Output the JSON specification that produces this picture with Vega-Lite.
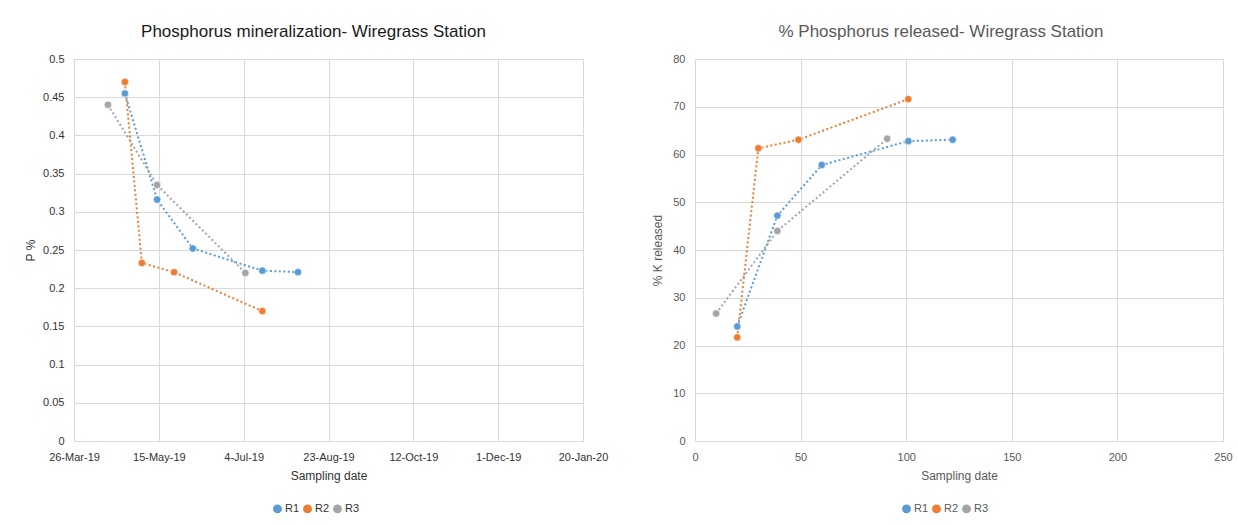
{
  "$schema": "https://vega.github.io/schema/vega-lite/v6.json",
  "padding": {"left": 24, "top": 22, "right": 5, "bottom": 5},
  "background": "white",
  "datasets": {
    "samples": [
      {"rep": "R1", "date": "2019-04-25", "day": 20, "p": 0.455, "released": 24.0},
      {"rep": "R1", "date": "2019-05-14", "day": 39, "p": 0.316, "released": 47.2},
      {"rep": "R1", "date": "2019-06-04", "day": 60, "p": 0.252, "released": 57.8},
      {"rep": "R1", "date": "2019-07-15", "day": 101, "p": 0.223, "released": 62.8},
      {"rep": "R1", "date": "2019-08-05", "day": 122, "p": 0.221, "released": 63.1},
      {"rep": "R2", "date": "2019-04-25", "day": 20, "p": 0.470, "released": 21.7},
      {"rep": "R2", "date": "2019-05-05", "day": 30, "p": 0.233, "released": 61.3},
      {"rep": "R2", "date": "2019-05-24", "day": 49, "p": 0.221, "released": 63.1},
      {"rep": "R2", "date": "2019-07-15", "day": 101, "p": 0.170, "released": 71.6},
      {"rep": "R3", "date": "2019-04-15", "day": 10, "p": 0.440, "released": 26.7},
      {"rep": "R3", "date": "2019-05-14", "day": 39, "p": 0.335, "released": 44.0},
      {"rep": "R3", "date": "2019-07-05", "day": 91, "p": 0.220, "released": 63.3}
    ]
  },
  "data": {"name": "samples"},
  "config": {
    "font": "Liberation Sans",
    "view": {"stroke": "#d9d9d9", "strokeWidth": 1},
    "axis": {
      "grid": true,
      "gridColor": "#d9d9d9",
      "gridWidth": 1,
      "domainColor": "#d9d9d9",
      "ticks": false,
      "labelFontSize": 11,
      "titleFontSize": 12,
      "titleFontWeight": "normal",
      "labelPadding": 10,
      "labelOverlap": false,
      "tickCount": 20
    },
    "legend": {
      "orient": "none",
      "direction": "horizontal",
      "symbolType": "circle",
      "symbolSize": 55,
      "labelFontSize": 11,
      "labelOffset": 2,
      "columnPadding": 0,
      "title": null
    },
    "title": {"fontSize": 17, "fontWeight": "normal", "anchor": "middle", "offset": 12}
  },
  "hconcat": [
    {
      "width": 509,
      "height": 382,
      "title": {"text": "Phosphorus mineralization- Wiregrass Station", "color": "#1a1a1a", "dx": -15},
      "encoding": {
        "x": {
          "field": "date",
          "type": "temporal",
          "title": "Sampling date",
          "scale": {
            "type": "utc",
            "domain": [
              {"year": 2019, "month": 3, "date": 26, "utc": true},
              {"year": 2020, "month": 1, "date": 20, "utc": true}
            ],
            "nice": false
          },
          "axis": {
            "values": [
              {"year": 2019, "month": 3, "date": 26, "utc": true},
              {"year": 2019, "month": 5, "date": 15, "utc": true},
              {"year": 2019, "month": 7, "date": 4, "utc": true},
              {"year": 2019, "month": 8, "date": 23, "utc": true},
              {"year": 2019, "month": 10, "date": 12, "utc": true},
              {"year": 2019, "month": 12, "date": 1, "utc": true},
              {"year": 2020, "month": 1, "date": 20, "utc": true}
            ],
            "format": "%-d-%b-%y",
            "labelAngle": 0,
            "labelColor": "#333333",
            "titleColor": "#333333",
            "titlePadding": 8,
            "labelFlush": false
          }
        },
        "y": {
          "field": "p",
          "type": "quantitative",
          "title": "P %",
          "scale": {"domain": [0, 0.5], "nice": false, "zero": true},
          "axis": {
            "values": [0, 0.05, 0.1, 0.15, 0.2, 0.25, 0.3, 0.35, 0.4, 0.45, 0.5],
            "tickCount": 20,
            "format": "~g",
            "labelColor": "#333333",
            "titleColor": "#333333",
            "titlePadding": 5
          }
        },
        "color": {
          "field": "rep",
          "type": "nominal",
          "scale": {"domain": ["R1", "R2", "R3"], "range": ["#5b9bd5", "#ed7d31", "#a5a5a5"]},
          "legend": {"legendX": 198, "legendY": 444, "labelColor": "#333333"}
        }
      },
      "layer": [
        {"mark": {"type": "line", "strokeWidth": 2, "strokeDash": [2, 2.5], "strokeCap": "butt"}},
        {"mark": {"type": "point", "filled": true, "size": 55, "opacity": 1, "stroke": "white", "strokeWidth": 0.6}}
      ]
    },
    {
      "width": 528,
      "height": 382,
      "title": {"text": "% Phosphorus released- Wiregrass Station", "color": "#595959", "dx": -18},
      "encoding": {
        "x": {
          "field": "day",
          "type": "quantitative",
          "title": "Sampling date",
          "scale": {"domain": [0, 250], "nice": false},
          "axis": {
            "values": [0, 50, 100, 150, 200, 250],
            "tickCount": 20,
            "labelColor": "#595959",
            "titleColor": "#595959",
            "titlePadding": 8,
            "labelFlush": false
          }
        },
        "y": {
          "field": "released",
          "type": "quantitative",
          "title": "% K  released",
          "scale": {"domain": [0, 80], "nice": false},
          "axis": {
            "values": [0, 10, 20, 30, 40, 50, 60, 70, 80],
            "tickCount": 20,
            "labelColor": "#595959",
            "titleColor": "#595959",
            "titlePadding": 8
          }
        },
        "color": {
          "field": "rep",
          "type": "nominal",
          "scale": {"domain": ["R1", "R2", "R3"], "range": ["#5b9bd5", "#ed7d31", "#a5a5a5"]},
          "legend": {"legendX": 206, "legendY": 444, "labelColor": "#595959"}
        }
      },
      "layer": [
        {"mark": {"type": "line", "strokeWidth": 2, "strokeDash": [2, 2.5], "strokeCap": "butt"}},
        {"mark": {"type": "point", "filled": true, "size": 55, "opacity": 1, "stroke": "white", "strokeWidth": 0.6}}
      ]
    }
  ],
  "spacing": 112,
  "bounds": "flush",
  "resolve": {"scale": {"color": "independent"}, "legend": {"color": "independent"}}
}
